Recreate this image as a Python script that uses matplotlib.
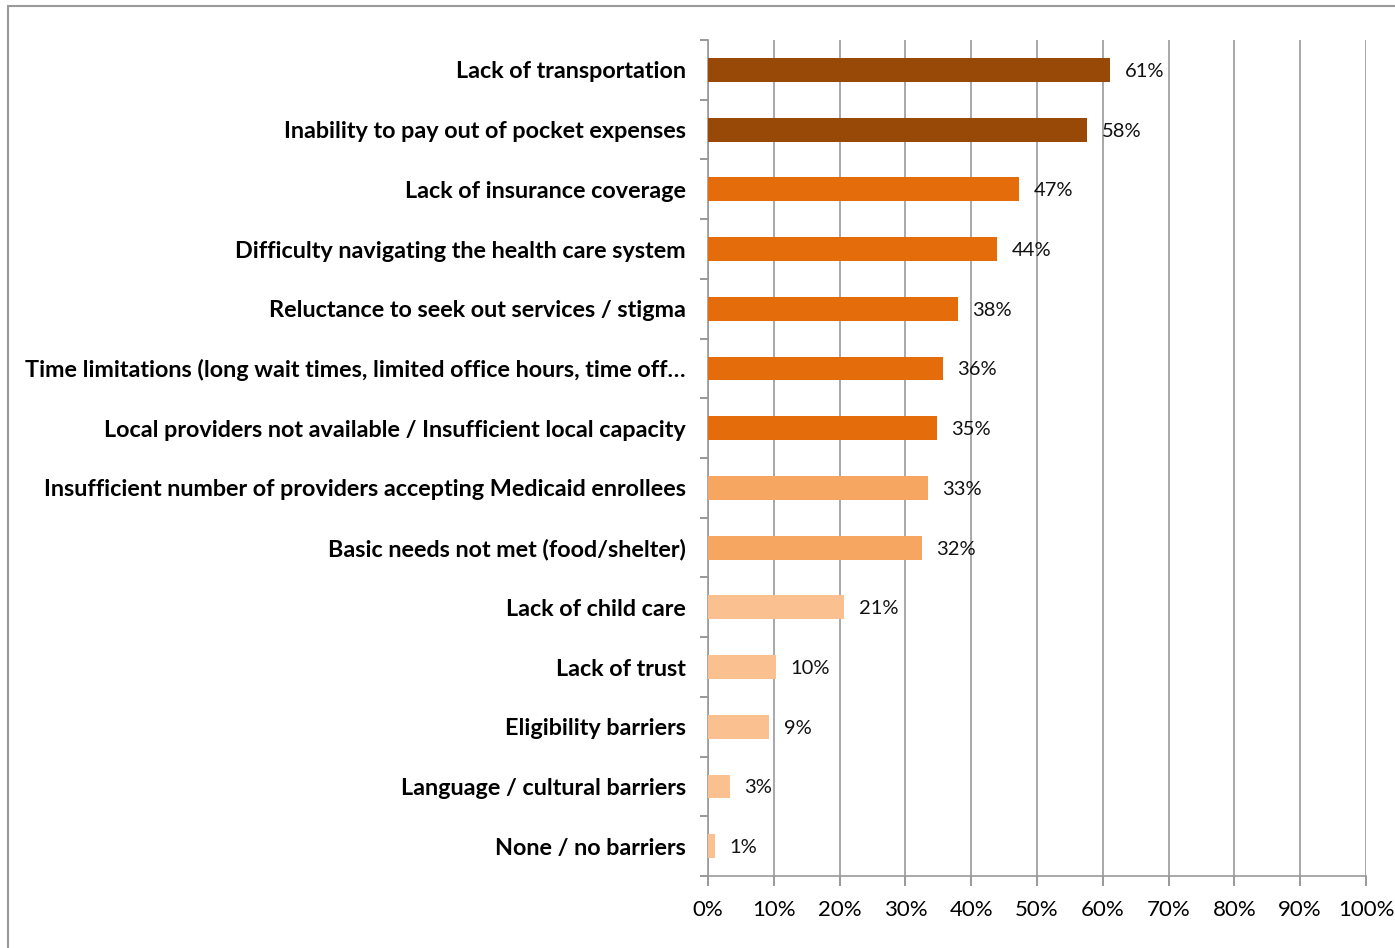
import matplotlib.pyplot as plt
from matplotlib.patches import Rectangle
import numpy as np

categories = [
    'Lack of transportation',
    'Inability to pay out of pocket expenses',
    'Lack of insurance coverage',
    'Difficulty navigating the health care system',
    'Reluctance to seek out services / stigma',
    'Time limitations (long wait times, limited office hours, time off\u2026',
    'Local providers not available / Insufficient local capacity',
    'Insufficient number of providers accepting Medicaid enrollees',
    'Basic needs not met (food/shelter)',
    'Lack of child care',
    'Lack of trust',
    'Eligibility barriers',
    'Language / cultural barriers',
    'None / no barriers',
]
values = [61.1, 57.6, 47.3, 43.9, 38.0, 35.7, 34.8, 33.4, 32.5, 20.7, 10.3, 9.3, 3.3, 1.1]
value_labels = ['61%', '58%', '47%', '44%', '38%', '36%', '35%', '33%', '32%',
                '21%', '10%', '9%', '3%', '1%']
colors = ['#984807'] * 2 + ['#E46C0A'] * 5 + ['#F7A662'] * 2 + ['#FAC090'] * 5

plt.rcParams['font.family'] = ['Lato', 'DejaVu Sans']

fig = plt.figure(figsize=(13.95, 9.48), dpi=100)
ax = fig.add_axes([0.5075, 0.0759, 0.4717, 0.8819])

y = np.arange(len(categories))
ax.barh(y, values, height=0.4, color=colors, zorder=3)
for yi, v, lab in zip(y, values, value_labels):
    ax.text(v + 2.2, yi, lab, va='center_baseline', ha='left', fontsize=14.5,
            color='#111111', zorder=4)

ax.set_xlim(0, 100)
ax.set_ylim(len(categories) - 0.5, -0.5)
ax.set_xticks(np.arange(0, 101, 10))
ax.set_xticklabels([f'{t}%' for t in range(0, 101, 10)], fontsize=16)
ax.set_yticks(y)
ax.set_yticklabels(categories, fontsize=16.8, fontweight='bold')
ax.set_yticks(np.arange(-0.5, len(categories), 1), minor=True)
ax.tick_params(axis='y', which='major', length=0, pad=16)
ax.tick_params(axis='y', which='minor', length=6, color='#888888', width=1.2)
ax.tick_params(axis='x', length=7, color='#888888', width=1.2, pad=10)

ax.grid(axis='x', color='#999999', linewidth=1.2, zorder=0)
for s in ['top', 'right']:
    ax.spines[s].set_visible(False)
for s in ['left', 'bottom']:
    ax.spines[s].set_color('#999999')
    ax.spines[s].set_linewidth(1.2)

fig.patches.append(Rectangle((8 / 1395, -0.01), 1.1, 1 - 6 / 948 + 0.01,
                             transform=fig.transFigure, fill=False,
                             edgecolor='#999999', linewidth=1.5))

fig.savefig('out.png', dpi=100)
